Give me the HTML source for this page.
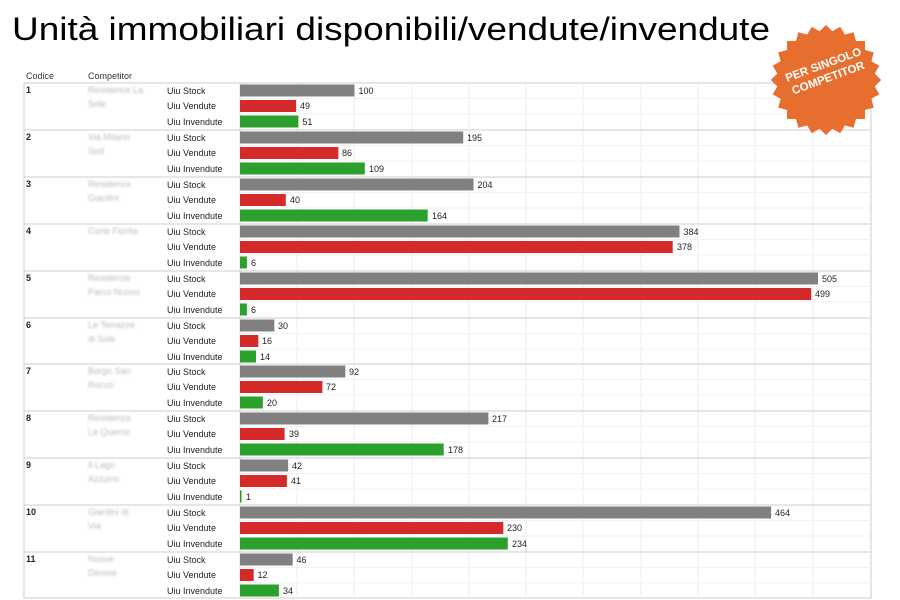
<!DOCTYPE html>
<html><head><meta charset="utf-8"><style>
body{margin:0;background:#fff;width:900px;height:600px;overflow:hidden;position:relative;font-family:"Liberation Sans",Arial,sans-serif}
.star{position:absolute;left:771px;top:25px;width:110px;height:110px}
.star div{position:absolute;left:16px;top:16px;width:78px;height:78px;background:#e66f30}
.stxt{position:absolute;left:771px;top:58px;width:110px;text-align:center;color:#fff;font-weight:bold;font-size:11.5px;line-height:14px;transform:rotate(-20deg)}
</style></head><body>
<svg width="900" height="600" style="position:absolute;left:0;top:0" font-family="Liberation Sans, Arial, sans-serif">
<defs><filter id="bl"><feGaussianBlur stdDeviation="1"/></filter></defs>
<text x="12" y="40" font-size="32" fill="#000" textLength="758" lengthAdjust="spacingAndGlyphs">Unità immobiliari disponibili/vendute/invendute</text>
<text x="26" y="79" font-size="9" fill="#333">Codice</text>
<text x="88" y="79" font-size="9" fill="#333">Competitor</text>
<rect x="24" y="83" width="847" height="515" fill="none" stroke="#ccc"/>
<g stroke="#eee" stroke-width="1">
<line x1="297" y1="83" x2="297" y2="598"/><line x1="354" y1="83" x2="354" y2="598"/><line x1="412" y1="83" x2="412" y2="598"/><line x1="469" y1="83" x2="469" y2="598"/><line x1="526" y1="83" x2="526" y2="598"/><line x1="583" y1="83" x2="583" y2="598"/><line x1="641" y1="83" x2="641" y2="598"/><line x1="698" y1="83" x2="698" y2="598"/><line x1="755" y1="83" x2="755" y2="598"/><line x1="813" y1="83" x2="813" y2="598"/>
</g>
<line x1="240" y1="83" x2="240" y2="598" stroke="#ddd"/>
<g font-size="9" fill="#222">
<!-- group template: top y0 -->
<g transform="translate(0,83)">
<line x1="24" y1="0" x2="871" y2="0" stroke="#ccc"/><line x1="240" y1="15.5" x2="871" y2="15.5" stroke="#f0f0f0"/><line x1="240" y1="31" x2="871" y2="31" stroke="#f0f0f0"/>
<text x="26" y="10" font-weight="bold">1</text><text x="88" y="10" fill="#bbb" filter="url(#bl)">Residence La</text><text x="88" y="24" fill="#bbb" filter="url(#bl)">Sole</text>
<text x="167" y="11">Uiu Stock</text><text x="167" y="26">Uiu Vendute</text><text x="167" y="42">Uiu Invendute</text>
<rect x="240" y="1.5" width="114.5" height="12" fill="#808080"/><rect x="240" y="17" width="56.1" height="12" fill="#d42a2a"/><rect x="240" y="32.5" width="58.4" height="12" fill="#2ca02c"/>
<text x="358.5" y="11">100</text><text x="300" y="26">49</text><text x="302.4" y="42">51</text></g>

<g transform="translate(0,130)">
<line x1="24" y1="0" x2="871" y2="0" stroke="#ccc"/><line x1="240" y1="15.5" x2="871" y2="15.5" stroke="#f0f0f0"/><line x1="240" y1="31" x2="871" y2="31" stroke="#f0f0f0"/>
<text x="26" y="10" font-weight="bold">2</text><text x="88" y="10" fill="#bbb" filter="url(#bl)">Via Milano</text><text x="88" y="24" fill="#bbb" filter="url(#bl)">Sud</text>
<text x="167" y="11">Uiu Stock</text><text x="167" y="26">Uiu Vendute</text><text x="167" y="42">Uiu Invendute</text>
<rect x="240" y="1.5" width="223.2" height="12" fill="#808080"/><rect x="240" y="17" width="98.4" height="12" fill="#d42a2a"/><rect x="240" y="32.5" width="124.8" height="12" fill="#2ca02c"/>
<text x="467" y="11">195</text><text x="342" y="26">86</text><text x="369" y="42">109</text></g>

<g transform="translate(0,177)">
<line x1="24" y1="0" x2="871" y2="0" stroke="#ccc"/><line x1="240" y1="15.5" x2="871" y2="15.5" stroke="#f0f0f0"/><line x1="240" y1="31" x2="871" y2="31" stroke="#f0f0f0"/>
<text x="26" y="10" font-weight="bold">3</text><text x="88" y="10" fill="#bbb" filter="url(#bl)">Residenza</text><text x="88" y="24" fill="#bbb" filter="url(#bl)">Giardini</text>
<text x="167" y="11">Uiu Stock</text><text x="167" y="26">Uiu Vendute</text><text x="167" y="42">Uiu Invendute</text>
<rect x="240" y="1.5" width="233.5" height="12" fill="#808080"/><rect x="240" y="17" width="45.8" height="12" fill="#d42a2a"/><rect x="240" y="32.5" width="187.7" height="12" fill="#2ca02c"/>
<text x="477.5" y="11">204</text><text x="290" y="26">40</text><text x="432" y="42">164</text></g>

<g transform="translate(0,224)">
<line x1="24" y1="0" x2="871" y2="0" stroke="#ccc"/><line x1="240" y1="15.5" x2="871" y2="15.5" stroke="#f0f0f0"/><line x1="240" y1="31" x2="871" y2="31" stroke="#f0f0f0"/>
<text x="26" y="10" font-weight="bold">4</text><text x="88" y="10" fill="#bbb" filter="url(#bl)">Corte Fiorita</text>
<text x="167" y="11">Uiu Stock</text><text x="167" y="26">Uiu Vendute</text><text x="167" y="42">Uiu Invendute</text>
<rect x="240" y="1.5" width="439.5" height="12" fill="#808080"/><rect x="240" y="17" width="432.7" height="12" fill="#d42a2a"/><rect x="240" y="32.5" width="6.9" height="12" fill="#2ca02c"/>
<text x="683.5" y="11">384</text><text x="677" y="26">378</text><text x="251" y="42">6</text></g>

<g transform="translate(0,271)">
<line x1="24" y1="0" x2="871" y2="0" stroke="#ccc"/><line x1="240" y1="15.5" x2="871" y2="15.5" stroke="#f0f0f0"/><line x1="240" y1="31" x2="871" y2="31" stroke="#f0f0f0"/>
<text x="26" y="10" font-weight="bold">5</text><text x="88" y="10" fill="#bbb" filter="url(#bl)">Residenze</text><text x="88" y="24" fill="#bbb" filter="url(#bl)">Parco Nuovo</text>
<text x="167" y="11">Uiu Stock</text><text x="167" y="26">Uiu Vendute</text><text x="167" y="42">Uiu Invendute</text>
<rect x="240" y="1.5" width="578" height="12" fill="#808080"/><rect x="240" y="17" width="571.2" height="12" fill="#d42a2a"/><rect x="240" y="32.5" width="6.9" height="12" fill="#2ca02c"/>
<text x="822" y="11">505</text><text x="815" y="26">499</text><text x="251" y="42">6</text></g>

<g transform="translate(0,318)">
<line x1="24" y1="0" x2="871" y2="0" stroke="#ccc"/><line x1="240" y1="15.5" x2="871" y2="15.5" stroke="#f0f0f0"/><line x1="240" y1="31" x2="871" y2="31" stroke="#f0f0f0"/>
<text x="26" y="10" font-weight="bold">6</text><text x="88" y="10" fill="#bbb" filter="url(#bl)">Le Terrazze</text><text x="88" y="24" fill="#bbb" filter="url(#bl)">di Sole</text>
<text x="167" y="11">Uiu Stock</text><text x="167" y="26">Uiu Vendute</text><text x="167" y="42">Uiu Invendute</text>
<rect x="240" y="1.5" width="34.3" height="12" fill="#808080"/><rect x="240" y="17" width="18.3" height="12" fill="#d42a2a"/><rect x="240" y="32.5" width="16" height="12" fill="#2ca02c"/>
<text x="278" y="11">30</text><text x="262" y="26">16</text><text x="260" y="42">14</text></g>

<g transform="translate(0,364)">
<line x1="24" y1="0" x2="871" y2="0" stroke="#ccc"/><line x1="240" y1="15.5" x2="871" y2="15.5" stroke="#f0f0f0"/><line x1="240" y1="31" x2="871" y2="31" stroke="#f0f0f0"/>
<text x="26" y="10" font-weight="bold">7</text><text x="88" y="10" fill="#bbb" filter="url(#bl)">Borgo San</text><text x="88" y="24" fill="#bbb" filter="url(#bl)">Rocco</text>
<text x="167" y="11">Uiu Stock</text><text x="167" y="26">Uiu Vendute</text><text x="167" y="42">Uiu Invendute</text>
<rect x="240" y="1.5" width="105.3" height="12" fill="#808080"/><rect x="240" y="17" width="82.4" height="12" fill="#d42a2a"/><rect x="240" y="32.5" width="22.9" height="12" fill="#2ca02c"/>
<text x="349" y="11">92</text><text x="326" y="26">72</text><text x="267" y="42">20</text></g>

<g transform="translate(0,411)">
<line x1="24" y1="0" x2="871" y2="0" stroke="#ccc"/><line x1="240" y1="15.5" x2="871" y2="15.5" stroke="#f0f0f0"/><line x1="240" y1="31" x2="871" y2="31" stroke="#f0f0f0"/>
<text x="26" y="10" font-weight="bold">8</text><text x="88" y="10" fill="#bbb" filter="url(#bl)">Residenza</text><text x="88" y="24" fill="#bbb" filter="url(#bl)">Le Querce</text>
<text x="167" y="11">Uiu Stock</text><text x="167" y="26">Uiu Vendute</text><text x="167" y="42">Uiu Invendute</text>
<rect x="240" y="1.5" width="248.4" height="12" fill="#808080"/><rect x="240" y="17" width="44.6" height="12" fill="#d42a2a"/><rect x="240" y="32.5" width="203.7" height="12" fill="#2ca02c"/>
<text x="492" y="11">217</text><text x="289" y="26">39</text><text x="448" y="42">178</text></g>

<g transform="translate(0,458)">
<line x1="24" y1="0" x2="871" y2="0" stroke="#ccc"/><line x1="240" y1="15.5" x2="871" y2="15.5" stroke="#f0f0f0"/><line x1="240" y1="31" x2="871" y2="31" stroke="#f0f0f0"/>
<text x="26" y="10" font-weight="bold">9</text><text x="88" y="10" fill="#bbb" filter="url(#bl)">Il Lago</text><text x="88" y="24" fill="#bbb" filter="url(#bl)">Azzurro</text>
<text x="167" y="11">Uiu Stock</text><text x="167" y="26">Uiu Vendute</text><text x="167" y="42">Uiu Invendute</text>
<rect x="240" y="1.5" width="48.1" height="12" fill="#808080"/><rect x="240" y="17" width="46.9" height="12" fill="#d42a2a"/><rect x="240" y="32.5" width="1.6" height="12" fill="#2ca02c"/>
<text x="292" y="11">42</text><text x="291" y="26">41</text><text x="246" y="42">1</text></g>

<g transform="translate(0,505)">
<line x1="24" y1="0" x2="871" y2="0" stroke="#ccc"/><line x1="240" y1="15.5" x2="871" y2="15.5" stroke="#f0f0f0"/><line x1="240" y1="31" x2="871" y2="31" stroke="#f0f0f0"/>
<text x="26" y="10" font-weight="bold">10</text><text x="88" y="10" fill="#bbb" filter="url(#bl)">Giardini di</text><text x="88" y="24" fill="#bbb" filter="url(#bl)">Via</text>
<text x="167" y="11">Uiu Stock</text><text x="167" y="26">Uiu Vendute</text><text x="167" y="42">Uiu Invendute</text>
<rect x="240" y="1.5" width="531.1" height="12" fill="#808080"/><rect x="240" y="17" width="263.3" height="12" fill="#d42a2a"/><rect x="240" y="32.5" width="267.8" height="12" fill="#2ca02c"/>
<text x="775" y="11">464</text><text x="507" y="26">230</text><text x="512" y="42">234</text></g>

<g transform="translate(0,552)">
<line x1="24" y1="0" x2="871" y2="0" stroke="#ccc"/><line x1="240" y1="15.5" x2="871" y2="15.5" stroke="#f0f0f0"/><line x1="240" y1="31" x2="871" y2="31" stroke="#f0f0f0"/>
<text x="26" y="10" font-weight="bold">11</text><text x="88" y="10" fill="#bbb" filter="url(#bl)">Nuove</text><text x="88" y="24" fill="#bbb" filter="url(#bl)">Dimore</text>
<text x="167" y="11">Uiu Stock</text><text x="167" y="26">Uiu Vendute</text><text x="167" y="42">Uiu Invendute</text>
<rect x="240" y="1.5" width="52.7" height="12" fill="#808080"/><rect x="240" y="17" width="13.7" height="12" fill="#d42a2a"/><rect x="240" y="32.5" width="38.9" height="12" fill="#2ca02c"/>
<text x="296.5" y="11">46</text><text x="257.5" y="26">12</text><text x="283" y="42">34</text></g>
</g>
</svg>
<div class="star">
<div style="transform:rotate(0deg)"></div><div style="transform:rotate(15deg)"></div><div style="transform:rotate(30deg)"></div><div style="transform:rotate(45deg)"></div><div style="transform:rotate(60deg)"></div><div style="transform:rotate(75deg)"></div>
</div>
<div class="stxt">PER SINGOLO<br>COMPETITOR</div>
</body></html>
